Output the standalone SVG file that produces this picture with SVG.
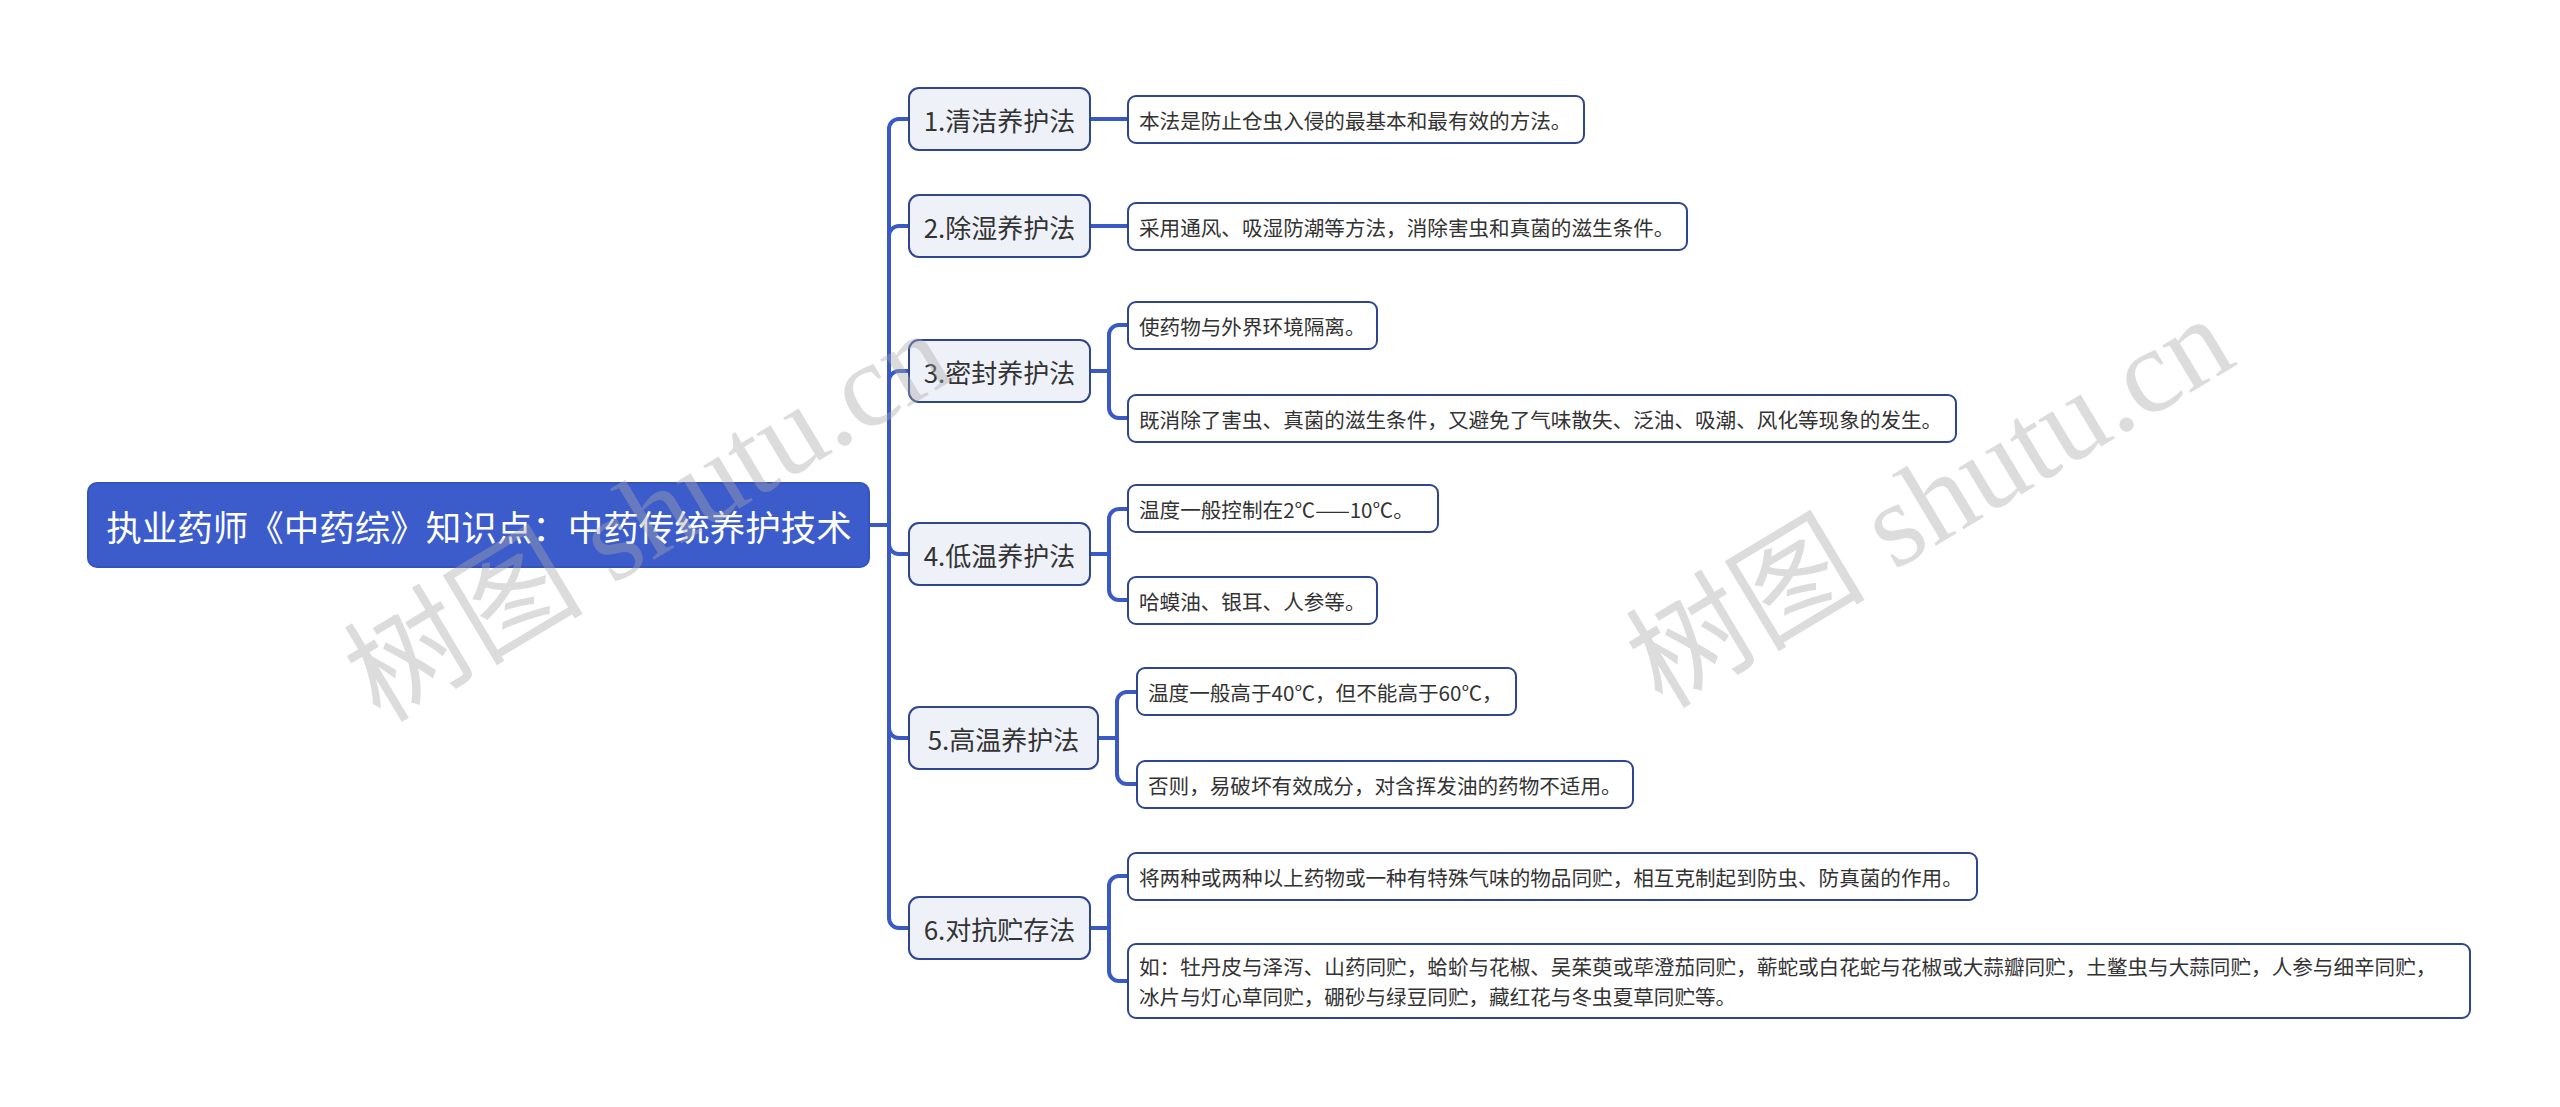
<svg xmlns="http://www.w3.org/2000/svg" width="2560" height="1107" viewBox="0 0 2560 1107">
<style>
.bg{fill:#ffffff}
.root rect{fill:#3d5ccc;stroke:#3453bd;stroke-width:2}
.root text{fill:#ffffff;font-family:"Noto Sans CJK SC","Noto Sans",sans-serif;font-size:35.5px;text-anchor:middle;dominant-baseline:central}
.n1 rect{fill:#eef2f8;stroke:#2e4591;stroke-width:2}
.n1 text{fill:#333333;font-family:"Noto Sans CJK SC","Noto Sans",sans-serif;font-size:26px;text-anchor:middle;dominant-baseline:central}
.n2 rect{fill:#ffffff;stroke:#2e4591;stroke-width:2}
.n2 text{fill:#333333;font-family:"Noto Sans CJK SC","Noto Sans",sans-serif;font-size:20.6px;dominant-baseline:central}
.conn path{fill:none;stroke:#3a59c4;stroke-width:4;stroke-linecap:round;stroke-linejoin:round}
.wm{fill:#a8a8a8;fill-opacity:0.4;font-family:"Liberation Serif","Noto Sans CJK SC",serif;font-size:120px;text-anchor:middle;dominant-baseline:central}
</style>
<rect class="bg" x="0" y="0" width="2560" height="1107"/>

<g id="connectors" class="conn">
  <path d="M869,525 H889"/>
  <path d="M889,525 V129 A10,10 0 0 1 899,119 H909"/>
  <path d="M889,525 V236 A10,10 0 0 1 899,226 H909"/>
  <path d="M889,525 V381 A10,10 0 0 1 899,371 H909"/>
  <path d="M889,525 V544 A10,10 0 0 0 899,554 H909"/>
  <path d="M889,525 V728 A10,10 0 0 0 899,738 H909"/>
  <path d="M889,525 V918 A10,10 0 0 0 899,928 H909"/>

  <path d="M1090,119 H1128"/>
  <path d="M1090,226 H1128"/>

  <path d="M1090,371 H1109"/>
  <path d="M1109,371 V335 A10,10 0 0 1 1119,325 H1128"/>
  <path d="M1109,371 V408 A10,10 0 0 0 1119,418 H1128"/>

  <path d="M1090,554 H1109"/>
  <path d="M1109,554 V519 A10,10 0 0 1 1119,509 H1128"/>
  <path d="M1109,554 V590 A10,10 0 0 0 1119,600 H1128"/>

  <path d="M1098,738 H1117"/>
  <path d="M1117,738 V702 A10,10 0 0 1 1127,692 H1137"/>
  <path d="M1117,738 V774 A10,10 0 0 0 1127,784 H1137"/>

  <path d="M1090,928 H1109"/>
  <path d="M1109,928 V886 A10,10 0 0 1 1119,876 H1128"/>
  <path d="M1109,928 V971 A10,10 0 0 0 1119,981 H1128"/>
</g>

<g id="root" class="root">
  <rect x="88" y="483" width="781" height="84" rx="9"/>
  <text x="479" y="525">执业药师《中药综》知识点：中药传统养护技术</text>
</g>

<g id="n1" class="n1"><rect x="909" y="88" width="181" height="62" rx="10"/><text x="999.5" y="119">1.清洁养护法</text></g>
<g id="n2" class="n1"><rect x="909" y="195" width="181" height="62" rx="10"/><text x="999.5" y="226">2.除湿养护法</text></g>
<g id="n3" class="n1"><rect x="909" y="340" width="181" height="62" rx="10"/><text x="999.5" y="371">3.密封养护法</text></g>
<g id="n4" class="n1"><rect x="909" y="523" width="181" height="62" rx="10"/><text x="999.5" y="554">4.低温养护法</text></g>
<g id="n5" class="n1"><rect x="909" y="707" width="189" height="62" rx="10"/><text x="1003.5" y="738">5.高温养护法</text></g>
<g id="n6" class="n1"><rect x="909" y="897" width="181" height="62" rx="10"/><text x="999.5" y="928">6.对抗贮存法</text></g>

<g id="l1a" class="n2"><rect x="1128" y="96" width="456" height="47" rx="8"/><text x="1139" y="119.5">本法是防止仓虫入侵的最基本和最有效的方法。</text></g>
<g id="l2a" class="n2"><rect x="1128" y="203" width="559" height="47" rx="8"/><text x="1139" y="226.5">采用通风、吸湿防潮等方法，消除害虫和真菌的滋生条件。</text></g>
<g id="l3a" class="n2"><rect x="1128" y="302" width="249" height="47" rx="8"/><text x="1139" y="325.5">使药物与外界环境隔离。</text></g>
<g id="l3b" class="n2"><rect x="1128" y="395" width="828" height="47" rx="8"/><text x="1139" y="418.5">既消除了害虫、真菌的滋生条件，又避免了气味散失、泛油、吸潮、风化等现象的发生。</text></g>
<g id="l4a" class="n2"><rect x="1128" y="485" width="310" height="47" rx="8"/><text x="1139" y="508.5">温度一般控制在2℃——10℃。</text></g>
<g id="l4b" class="n2"><rect x="1128" y="577" width="249" height="47" rx="8"/><text x="1139" y="600.5">哈蟆油、银耳、人参等。</text></g>
<g id="l5a" class="n2"><rect x="1137" y="668" width="379" height="47" rx="8"/><text x="1148" y="691.5">温度一般高于40℃，但不能高于60℃，</text></g>
<g id="l5b" class="n2"><rect x="1137" y="761" width="496" height="47" rx="8"/><text x="1148" y="784.5">否则，易破坏有效成分，对含挥发油的药物不适用。</text></g>
<g id="l6a" class="n2"><rect x="1128" y="853" width="849" height="47" rx="8"/><text x="1139" y="876.5">将两种或两种以上药物或一种有特殊气味的物品同贮，相互克制起到防虫、防真菌的作用。</text></g>
<g id="l6b" class="n2"><rect x="1128" y="944" width="1342" height="74" rx="8"/><text x="1139" y="966">如：牡丹皮与泽泻、山药同贮，蛤蚧与花椒、吴茱萸或荜澄茄同贮，蕲蛇或白花蛇与花椒或大蒜瓣同贮，土鳖虫与大蒜同贮，人参与细辛同贮，</text><text x="1139" y="996">冰片与灯心草同贮，硼砂与绿豆同贮，藏红花与冬虫夏草同贮等。</text></g>

<g id="watermarks">
  <text class="wm" transform="translate(648,516) rotate(-31)">树图 shutu.cn</text>
  <text class="wm" transform="translate(1930,502) rotate(-31)">树图 shutu.cn</text>
</g>
</svg>
